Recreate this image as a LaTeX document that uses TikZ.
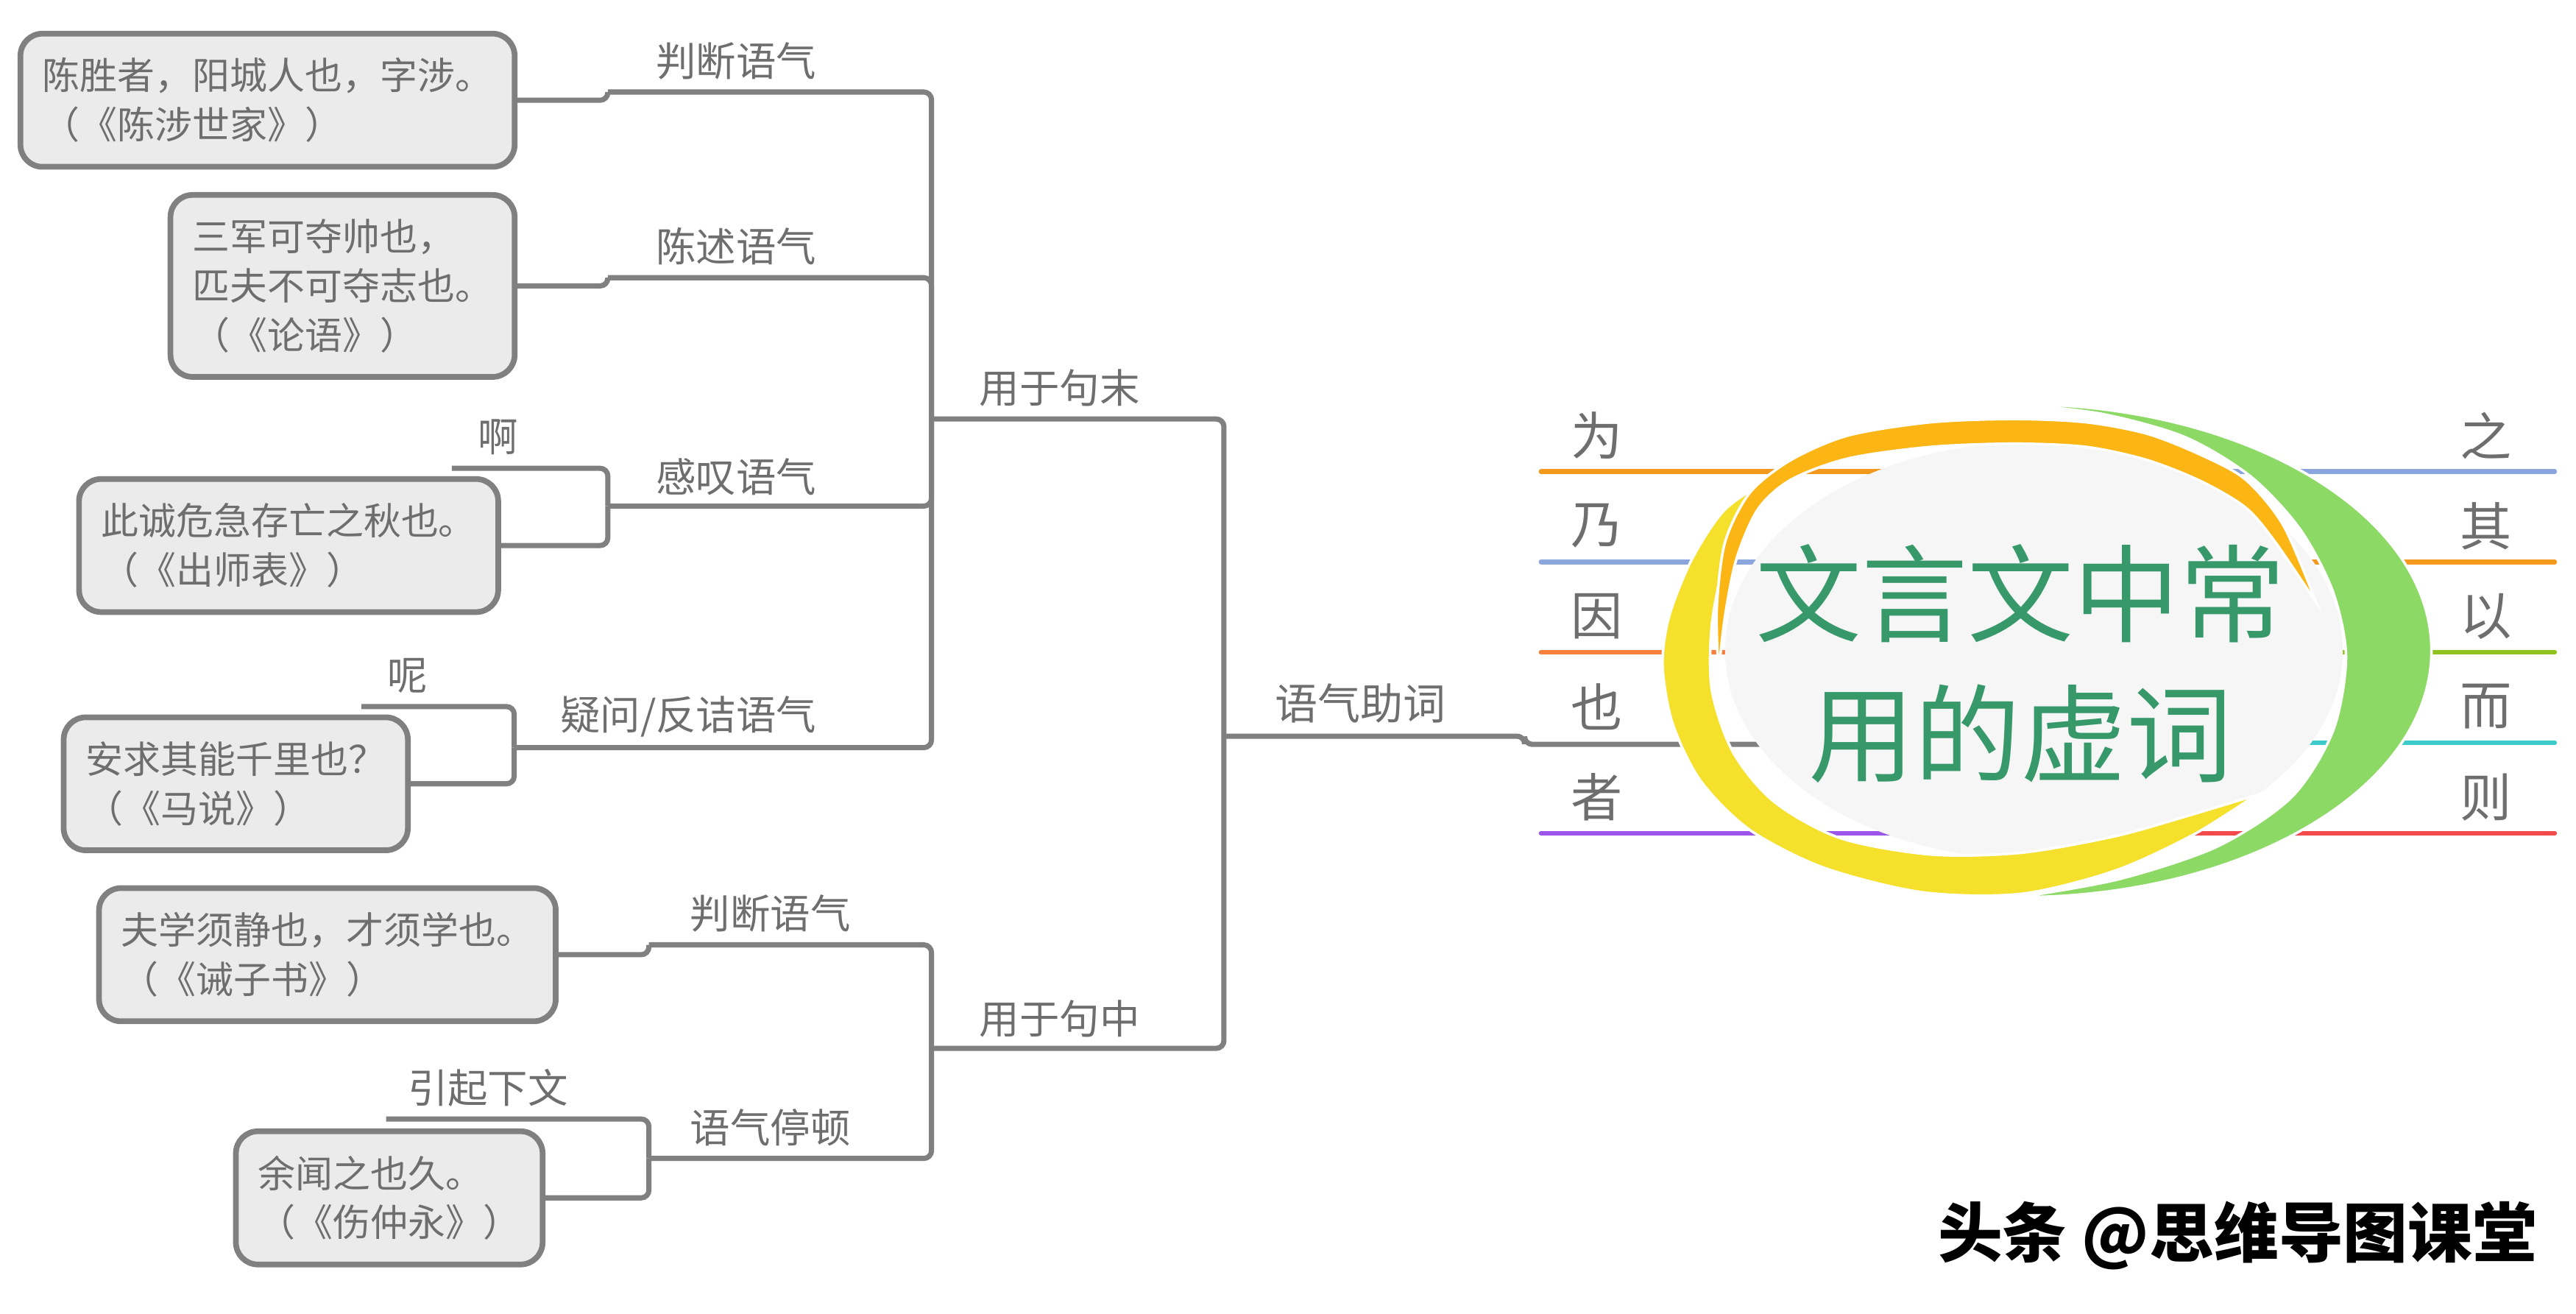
\documentclass[tikz,border=0pt]{standalone}
\usepackage{fontspec}
\setmainfont{Noto Sans CJK SC}
\definecolor{linegray}{HTML}{808080}
\definecolor{txtgray}{HTML}{6E6E6E}
\definecolor{boxfill}{HTML}{EBEBEB}
\definecolor{titlegreen}{HTML}{37996A}
\definecolor{ringyellow}{HTML}{F5E12B}
\definecolor{ringorange}{HTML}{FBB615}
\definecolor{ringgreen}{HTML}{8CD966}
\definecolor{discfill}{HTML}{F6F6F6}
\definecolor{cOrange}{HTML}{F39A1E}
\definecolor{cBlue}{HTML}{8AA6DC}
\definecolor{cCoral}{HTML}{F57F3B}
\definecolor{cPurple}{HTML}{9B55E8}
\definecolor{cLime}{HTML}{8DC21F}
\definecolor{cCyan}{HTML}{3CCACA}
\definecolor{cRed}{HTML}{F34B4B}
\tikzset{
  conn/.style={draw=linegray, line width=2pt, rounded corners=3pt},
  wline/.style={line width=1.8pt, line cap=round},
  lbl/.style={text=txtgray, font=\fontsize{15.5}{18}\selectfont, inner sep=0pt},
  quote/.style={draw=linegray, line width=2.2pt, fill=boxfill, rounded corners=0.3cm,
    text=txtgray, align=left, inner xsep=0.3cm, inner ysep=0.33cm,
    font=\fontsize{14.5}{19}\selectfont, anchor=east},
  word/.style={text=txtgray, font=\fontsize{20}{24}\selectfont, inner sep=0pt},
  ring/.style={draw=white, line width=1pt},
}

\begin{document}
\begin{tikzpicture}[x=0.02232cm,y=-0.02232cm]
  \useasboundingbox (0,0) rectangle (1568,799.3);

%% quotations
\node[quote] (q1) at (315,61) {陈胜者，阳城人也，字涉。\\（《陈涉世家》）};
\node[quote] (q2) at (315,174) {三军可夺帅也，\\匹夫不可夺志也。\\（《论语》）};
\node[quote] (q3) at (305,332) {此诚危急存亡之秋也。\\（《出师表》）};
\node[quote] (q4) at (250,477) {安求其能千里也？\\（《马说》）};
\node[quote] (q5) at (340,581) {夫学须静也，才须学也。\\（《诫子书》）};
\node[quote] (q6) at (332,729) {余闻之也久。\\（《伤仲永》）};

%% labels
\node[lbl] (pdA) at (448,37) {判断语气};
\node[lbl] (csA) at (448,150) {陈述语气};
\node[lbl] (gtA) at (448,290) {感叹语气};
\node[lbl] (ywA) at (419,436) {疑问/反诘语气};
\node[lbl] (ah) at (303,266) {啊};
\node[lbl] (ne) at (248,411) {呢};
\node[lbl] (jm) at (645,236) {用于句末};
\node[lbl] (jz) at (645,620) {用于句中};
\node[lbl] (pdB) at (469,556) {判断语气};
\node[lbl] (tdB) at (469,686) {语气停顿};
\node[lbl] (yqxw) at (297,662) {引起下文};
\node[lbl,font=\fontsize{16.5}{19}\selectfont] (zc) at (828,428) {语气助词};

\coordinate (hub) at (1238,396);
\coordinate (jC) at (745,448);
\coordinate (jA) at (567,255);
\coordinate (jB) at (567,638);
\coordinate (a1) at (370,56);
\coordinate (a2) at (370,169);
\coordinate (a3) at (370,308);
\coordinate (a4) at (313,455);
\coordinate (b1) at (395,575);
\coordinate (b2) at (395,705);
\coordinate (ahEnd) at (275,285);
\coordinate (neEnd) at (220,430);
\coordinate (yqEnd) at (235,681);

\draw[conn] (hub |- 0,453) -- ++(-310,0) |- (jC);
\draw[conn] (jC) |- (jA);
\draw[conn] (jC) |- (jB);
\draw[conn] (jA) |- (a1);
\draw[conn] (jA) |- (a2);
\draw[conn] (jA) |- (a3);
\draw[conn] (jA) |- (a4);
\draw[conn] (a1) |- (q1.east);
\draw[conn] (a2) |- (q2.east);
\draw[conn] (a3) |- (q3.east);
\draw[conn] (a3) |- (ahEnd);
\draw[conn] (a4) |- (q4.east);
\draw[conn] (a4) |- (neEnd);
\draw[conn] (jB) |- (b1);
\draw[conn] (jB) |- (b2);
\draw[conn] (b1) |- (q5.east);
\draw[conn] (b2) |- (q6.east);
\draw[conn] (b2) |- (yqEnd);

%% the words round the centre
\node[word] (wei) at (972,265) {为};
\node[word] (nai) at (972,320) {乃};
\node[word] (yin) at (972,375) {因};
\node[word] (ye) at (972,430) {也};
\node[word] (zhe) at (972,485) {者};
\node[word] (zhi) at (1513,265) {之};
\node[word] (qi) at (1513,320) {其};
\node[word] (yi) at (1513,375) {以};
\node[word] (er) at (1513,430) {而};
\node[word] (ze) at (1513,485) {则};

\coordinate (weiL) at (938,287);
\coordinate (naiL) at (938,342);
\coordinate (yinL) at (938,397);
\coordinate (zheL) at (938,507);
\coordinate (zhiL) at (1555,287);
\coordinate (qiL) at (1555,342);
\coordinate (yiL) at (1555,397);
\coordinate (erL) at (1555,452);
\coordinate (zeL) at (1555,507);
\draw[wline,cOrange] (weiL) -- (hub |- weiL);
\draw[wline,cBlue] (naiL) -- (hub |- naiL);
\draw[wline,cCoral] (yinL) -- (hub |- yinL);
\draw[wline,cPurple] (zheL) -- (hub |- zheL);
\draw[wline,cBlue] (zhiL) -- (hub |- zhiL);
\draw[wline,cOrange] (qiL) -- (hub |- qiL);
\draw[wline,cLime] (yiL) -- (hub |- yiL);
\draw[wline,cCyan] (erL) -- (hub |- erL);
\draw[wline,cRed] (zeL) -- (hub |- zeL);

%% emblem
\fill[discfill] (hub) ellipse[x radius=188, y radius=127];
\fill[ringgreen, ring] (1229,246)
  arc[start angle=-90, end angle=90, x radius=251, y radius=150]
  -- plot[smooth] coordinates {(1229,546) (1290,535) (1350,515) (1395,485) (1420,445) (1428,400)
    (1420,360) (1400,322) (1370,290) (1330,266) (1280,252) (1229,246)} -- cycle;
\fill[ringyellow, ring]
  plot[smooth] coordinates {(1078,291) (1050,310) (1030,340) (1016,375) (1012,405) (1018,440)
    (1035,475) (1065,505) (1110,528) (1170,543) (1230,544) (1287,530) (1335,508) (1373,484)}
  -- plot[smooth] coordinates {(1373,484) (1330,497) (1287,509) (1230,519) (1175,520) (1120,510)
    (1080,488) (1055,458) (1042,420) (1042,380) (1050,340) (1062,310) (1078,291)} -- cycle;
\fill[ringorange, ring]
  plot[smooth] coordinates {(1046,410) (1045,370) (1050,330) (1065,300) (1090,280) (1125,265)
    (1175,257) (1226,255) (1270,257) (1307,264) (1340,277) (1367,292) (1390,320) (1410,367)}
  -- plot[smooth] coordinates {(1410,367) (1385,330) (1367,309) (1340,293) (1307,280) (1270,272)
    (1226,270) (1175,272) (1125,279) (1090,292) (1070,310) (1057,340) (1050,375) (1046,410)} -- cycle;
\node[font=\fontsize{41}{54}\selectfont, text=titlegreen, align=center] (root) at (1230,404) {文言文中常\\用的虚词};

\node[font=\bfseries\fontsize{25}{30}\selectfont] (wm) at (1362,752) {头条 @思维导图课堂};

\end{tikzpicture}
\end{document}
